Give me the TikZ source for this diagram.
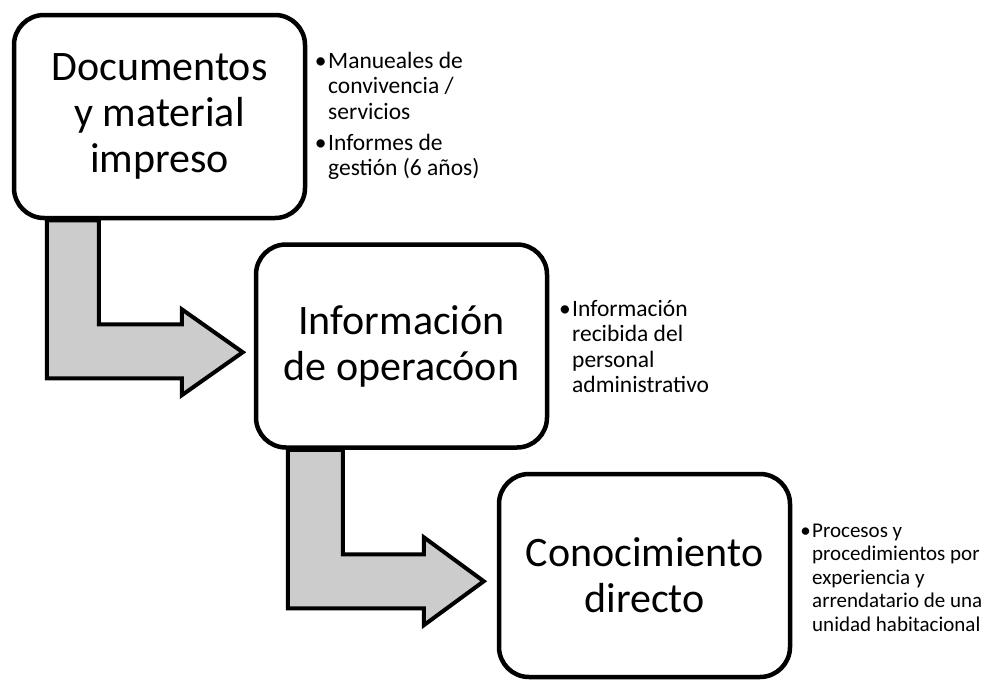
\documentclass[tikz,border=0pt]{standalone}
\usepackage{fontspec}
\setmainfont{Carlito}
\usetikzlibrary{calc}
\definecolor{arrowgray}{RGB}{204,204,204}
\tikzset{
  stagebox/.style={draw=black, line width=4.5pt, fill=white, rounded corners=30pt,
    minimum width=291pt, minimum height=203pt, align=center, inner sep=0pt,
    font=\fontsize{42}{46}\selectfont},
  blockarrow/.style={draw=black, line width=4pt, fill=arrowgray, line join=miter},
  bullettext/.style={anchor=base west, inner sep=0pt, align=left}
}
\newcommand{\bul}{\leavevmode\llap{\textbullet\hspace{1.5pt}}}
\begin{document}
\begin{tikzpicture}[x=1pt,y=-1pt]
\useasboundingbox (0,0) rectangle (985,680);
% box nodes (positions)
\path (159.5,116.5) coordinate (c1);
\path (401.5,346) coordinate (c2);
\path (644.5,575.5) coordinate (c3);
% placeholders for arrow anchoring (drawn before boxes)
\node[stagebox, draw=none, fill=none] (b1) at (c1) {};
\node[stagebox, draw=none, fill=none] (b2) at (c2) {};
\draw[blockarrow] ([xshift=35pt]b1.south west) -- ++(0,158) -- ++(135,0) -- ++(0,17)
  -- ++(61,-43) -- ++(-61,-43) -- ++(0,15) -- ++(-83,0) -- ++(0,-104) -- cycle;
\draw[blockarrow] ([xshift=34pt]b2.south west) -- ++(0,158.5) -- ++(136,0) -- ++(0,17)
  -- ++(60,-44) -- ++(-60,-44) -- ++(0,17) -- ++(-81,0) -- ++(0,-104.5) -- cycle;
% boxes
\node[stagebox] (box1) at (c1) {Documentos\\y material\\impreso};
\node[stagebox] (box2) at (c2) {Información\\de operacóon};
\node[stagebox] (box3) at (c3) {Conocimiento\\directo};
% bullet texts
\node[bullettext] (t1) at (328,68) {\parbox[t]{200pt}{\fontsize{23.5}{25.5}\selectfont\raggedright\parindent=0pt\parskip=5.5pt
\bul Manueales de\\convivencia /\\servicios\par
\bul Informes de\\gestión (6 años)}};
\node[bullettext] (t2) at (572,316) {\parbox[t]{200pt}{\fontsize{23.5}{25.5}\selectfont\raggedright\parindent=0pt
\bul Información\\recibida del\\personal\\administrativo}};
\node[bullettext] (t3) at (812,537) {\parbox[t]{200pt}{\fontsize{21}{23.6}\selectfont\raggedright\parindent=0pt
\bul Procesos y\\procedimientos por\\experiencia y\\arrendatario de una\\unidad habitacional}};
\end{tikzpicture}
\end{document}
